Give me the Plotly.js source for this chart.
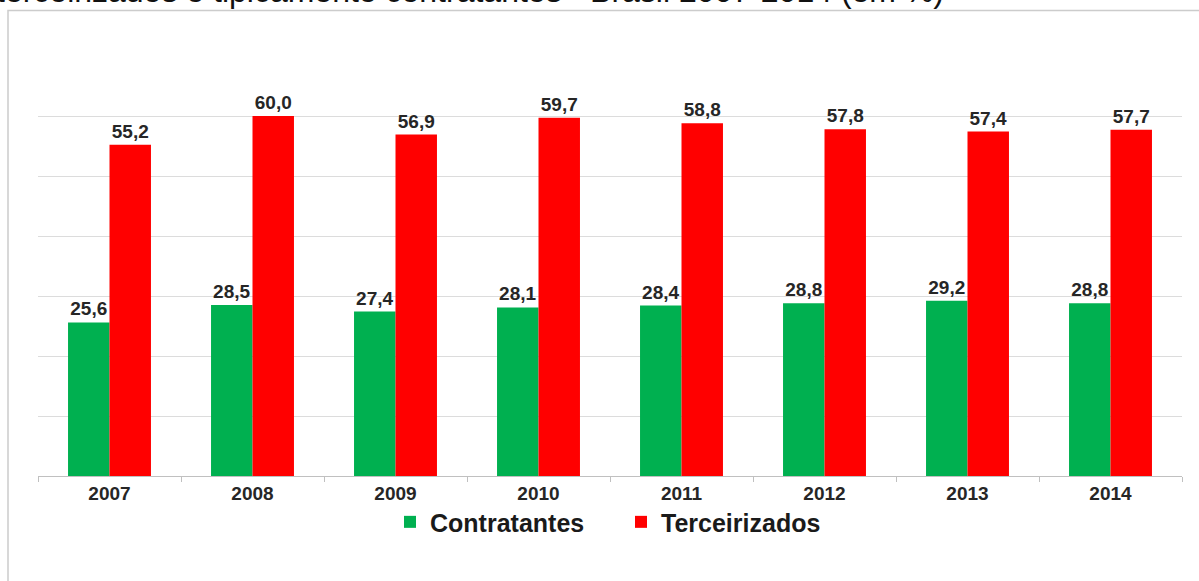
<!DOCTYPE html>
<html>
<head>
<meta charset="utf-8">
<script src="https://cdn.plot.ly/plotly-3.0.1.min.js"></script>
<style>html,body{margin:0;padding:0;background:#fff;}#chart{width:1199px;height:581px;}</style>
</head>
<body>
<div id="chart"></div>
<script>
var years = ['2007','2008','2009','2010','2011','2012','2013','2014'];
var contratantes = [25.6, 28.5, 27.4, 28.1, 28.4, 28.8, 29.2, 28.8];
var terceirizados = [55.2, 60.0, 56.9, 59.7, 58.8, 57.8, 57.4, 57.7];
var seriesNames = ['Contratantes', 'Terceirizados'];
var titleText = 'terceirizados e tipicamente contratantes - Brasil 2007-2014 (em %)';

var FONT = '"Liberation Sans", Arial, sans-serif';
var labelFont = {family: FONT, size: 19, color: '#262626', weight: 700};

var traces = [
  {type: 'bar', name: seriesNames[0], x: years, y: contratantes,
   marker: {color: '#00B050'}, text: contratantes, texttemplate: '%{y:.1f}',
   textposition: 'outside', textfont: labelFont, constraintext: 'none', cliponaxis: false,
   hoverinfo: 'none'},
  {type: 'bar', name: seriesNames[1], x: years, y: terceirizados,
   marker: {color: '#FF0000'}, text: terceirizados, texttemplate: '%{y:.1f}',
   textposition: 'outside', textfont: labelFont, constraintext: 'none', cliponaxis: false,
   hoverinfo: 'none'}
];

var L = 38, R = 17, T = 56, B = 105, W = 1199, H = 581;
var pw = W - L - R, ph = H - T - B;
function px(x){ return (x - L) / pw; }
function py(y){ return (H - B - y) / ph; }

var layout = {
  width: W, height: H,
  margin: {l: L, r: R, t: T, b: B, pad: 0},
  paper_bgcolor: '#ffffff', plot_bgcolor: '#ffffff',
  separators: ',.',
  barmode: 'group', bargap: 0.42, bargroupgap: 0,
  font: {family: FONT, color: '#262626'},
  showlegend: true,
  legend: {orientation: 'h', x: px(390), xanchor: 'left', y: -0.055, yanchor: 'top',
           entrywidth: 186, entrywidthmode: 'pixels', bgcolor: 'rgba(0,0,0,0)',
           font: {family: FONT, size: 25, color: '#1a1a1a', weight: 700},
           traceorder: 'normal', itemclick: false, itemdoubleclick: false},
  xaxis: {type: 'category', showline: true, linecolor: '#c0c0c0', linewidth: 1,
          ticks: 'outside', tickson: 'boundaries', ticklen: 5, tickcolor: '#c0c0c0',
          tickfont: {family: FONT, size: 19, color: '#262626', weight: 700},
          showgrid: false, zeroline: false, fixedrange: true},
  yaxis: {range: [0, 70], dtick: 10, tick0: 0, showticklabels: false, ticks: '',
          showgrid: true, gridcolor: '#dcdcdc', gridwidth: 1, zeroline: false,
          showline: false, fixedrange: true},
  shapes: [
    {type: 'rect', xref: 'paper', yref: 'paper', x0: px(8), x1: px(1215), y0: py(10.5), y1: py(600),
     line: {color: '#cccccc', width: 1.5}, fillcolor: 'rgba(0,0,0,0)', layer: 'below'}
  ],
  annotations: [
    {xref: 'paper', yref: 'paper', x: px(946), y: py(11.5), xanchor: 'right', yanchor: 'bottom',
     text: titleText, showarrow: false,
     font: {family: FONT, size: 32, color: '#111111'}}
  ]
};

Plotly.newPlot('chart', traces, layout, {displayModeBar: false, staticPlot: true});
</script>
</body>
</html>
